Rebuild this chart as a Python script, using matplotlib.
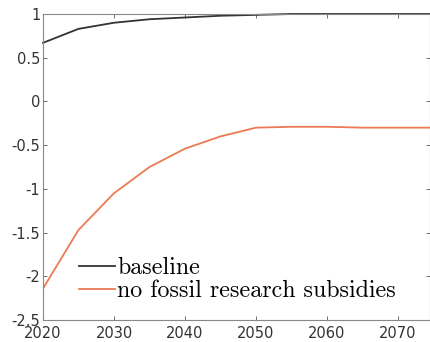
import matplotlib
matplotlib.use("Agg")
import matplotlib.pyplot as plt

years = [2020, 2025, 2030, 2035, 2040, 2045, 2050, 2055, 2060, 2065, 2070, 2075]
baseline = [0.67, 0.83, 0.90, 0.94, 0.96, 0.98, 0.99, 1.0, 1.0, 1.0, 1.0, 1.0]
no_fossil = [-2.14, -1.47, -1.05, -0.75, -0.54, -0.40, -0.30, -0.29, -0.29, -0.30, -0.30, -0.30]
xticks = [2020, 2030, 2040, 2050, 2060, 2070]
yticks = [-2.5, -2, -1.5, -1, -0.5, 0, 0.5, 1]
ytick_labels = ["-2.5", "-2", "-1.5", "-1", "-0.5", "0", "0.5", "1"]

fig = plt.figure(figsize=(4.30, 3.42), dpi=100)
ax = fig.add_axes([43/430, 1 - 320/342, (430 - 43)/430, (320 - 14)/342])

ax.plot(years, baseline, color="#333333", lw=1.3, label="baseline", clip_on=False)
ax.plot(years, no_fossil, color="#EC7A52", lw=1.3, label="no fossil research subsidies")

ax.set_xlim(2020, 2074.5)
ax.set_ylim(-2.5, 1)
ax.set_xticks(xticks)
ax.set_yticks(yticks)
ax.set_yticklabels(ytick_labels)
ax.tick_params(direction="in", top=True, right=True, length=3, width=0.6,
               colors="#555555", labelsize=10.5, labelcolor="#333333")
ax.tick_params(axis="x", pad=4.5)
ax.tick_params(axis="y", pad=2)
for s in ax.spines.values():
    s.set_color("#888888")
    s.set_linewidth(0.8)

leg = ax.legend(loc="lower left", frameon=False, prop={"family": "cmr10", "size": 17.3},
                handlelength=1.5, handletextpad=0.1, labelspacing=0.05,
                borderpad=0, borderaxespad=0,
                bbox_to_anchor=(0.093, 0.058))

fig.savefig("out.png", dpi=100)
